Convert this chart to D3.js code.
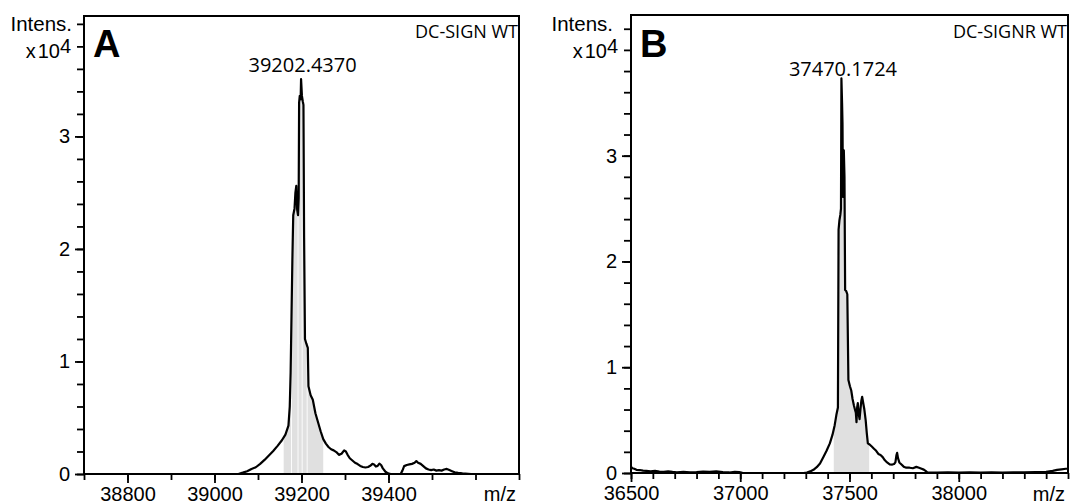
<!DOCTYPE html>
<html>
<head>
<meta charset="utf-8">
<script src="https://cdn.jsdelivr.net/npm/d3@7"></script>
<style>
body { margin: 0; background: #fff; }
svg { display: block; }
.tick text { font-family: "Liberation Sans", Arial, sans-serif; font-size: 20px; fill: #000; }
.tick line { stroke: #000; stroke-width: 1.8; }
</style>
</head>
<body>
<svg id="chart"></svg>
<script>
// spectrum A, DC-SIGN WT (intensity in units of 10^4)
let mzA = [38700, 39055, 39065, 39075, 39085, 39095, 39105, 39115, 39125, 39135,
  39145, 39155, 39163, 39170, 39173, 39175, 39177, 39179, 39181, 39184,
  39186, 39188, 39190, 39192, 39193.5, 39194.5, 39196, 39198, 39199, 39201,
  39203, 39204.5, 39206, 39208, 39211, 39214.5, 39216, 39221, 39226, 39232,
  39238, 39244, 39250, 39256, 39262, 39268, 39274, 39280, 39286, 39292,
  39298, 39302, 39306, 39311, 39317, 39323, 39329, 39335, 39341, 39347,
  39353, 39359, 39363, 39367, 39371, 39375, 39379, 39383, 39387, 39393,
  39399, 39405, 39428, 39432, 39436, 39442, 39448, 39454, 39460, 39464,
  39468, 39474, 39480, 39486, 39492, 39498, 39504, 39510, 39516, 39522,
  39528, 39534, 39540, 39546, 39552, 39560, 39570, 39590, 39700]
let intA = [0, 0, 0.012, 0.025, 0.045, 0.06, 0.09, 0.125, 0.165, 0.205,
  0.25, 0.3, 0.35, 0.43, 0.6, 0.9, 1.4, 1.9, 2.3, 2.36,
  2.5, 2.56, 2.35, 2.3, 2.45, 3.3, 3.36, 3.33, 3.51, 3.36,
  3.31, 3.28, 2.1, 1.2, 1.16, 1.12, 0.78, 0.7, 0.66, 0.54,
  0.46, 0.38, 0.31, 0.27, 0.24, 0.22, 0.21, 0.195, 0.17, 0.18,
  0.21, 0.2, 0.17, 0.14, 0.12, 0.1, 0.088, 0.072, 0.062, 0.058,
  0.062, 0.075, 0.09, 0.085, 0.066, 0.072, 0.092, 0.08, 0.05, 0.02,
  0.005, 0, 0, 0.03, 0.07, 0.08, 0.085, 0.09, 0.1, 0.115,
  0.1, 0.09, 0.07, 0.05, 0.04, 0.035, 0.04, 0.03, 0.035, 0.03,
  0.04, 0.045, 0.035, 0.025, 0.015, 0.01, 0.005, 0, 0]
let fillA = [[39159, 39176], [39178, 39191], [39193, 39200.5], [39202.5, 39212], [39214, 39250]]
let xTicksA = [38800, 39000, 39200, 39400]

// spectrum B, DC-SIGNR WT
let mzB = [36500, 36506, 36515, 36525, 36540, 36555, 36570, 36590, 36610, 36630,
  36650, 36670, 36690, 36710, 36740, 36770, 36800, 36830, 36860, 36890,
  36920, 36950, 36975, 36995, 37010, 37050, 37290, 37305, 37320, 37335,
  37350, 37365, 37380, 37395, 37410, 37422, 37432, 37440, 37447, 37450,
  37454, 37458, 37461, 37463, 37466, 37468, 37470, 37472, 37474, 37477,
  37480, 37485, 37490, 37495, 37502, 37508, 37514, 37520, 37525, 37529,
  37532, 37535, 37538, 37542, 37546, 37550, 37554, 37558, 37563, 37568,
  37574, 37579, 37584, 37592, 37602, 37612, 37622, 37632, 37642, 37652,
  37662, 37672, 37684, 37696, 37704, 37710, 37715, 37718, 37722, 37728,
  37738, 37748, 37760, 37775, 37790, 37806, 37818, 37830, 37840, 37848,
  37856, 37900, 37950, 38000, 38050, 38100, 38150, 38200, 38250, 38300,
  38350, 38400, 38430, 38450, 38470, 38490, 38500]
let intB = [0.06, 0.045, 0.04, 0.03, 0.028, 0.022, 0.02, 0.016, 0.02, 0.014,
  0.012, 0.016, 0.01, 0.007, 0.01, 0.005, 0.008, 0.013, 0.01, 0.015,
  0.008, 0.005, 0.011, 0.008, 0.002, 0, 0, 0.005, 0.015, 0.03,
  0.055, 0.09, 0.15, 0.21, 0.28, 0.36, 0.45, 0.55, 0.62, 2.3,
  2.39, 2.44, 2.5, 3.73, 3.5, 3.3, 2.61, 2.75, 3.05, 2.8,
  1.73, 1.72, 1.69, 0.88, 0.82, 0.78, 0.7, 0.64, 0.6, 0.57,
  0.48, 0.62, 0.66, 0.56, 0.51, 0.6, 0.68, 0.72, 0.66, 0.6,
  0.5, 0.38, 0.28, 0.27, 0.25, 0.23, 0.21, 0.18, 0.17, 0.15,
  0.12, 0.1, 0.082, 0.08, 0.085, 0.1, 0.17, 0.19, 0.14, 0.1,
  0.08, 0.06, 0.05, 0.05, 0.045, 0.058, 0.05, 0.04, 0.032, 0.02,
  0.006, 0.004, 0.006, 0.003, 0.006, 0.004, 0.006, 0.004, 0.006, 0.005,
  0.008, 0.01, 0.02, 0.03, 0.035, 0.04, 0.04]
let fillB = [[37428, 37590]]
let xTicksB = [36500, 37000, 37500, 38000]

let yTicks = [0, 1, 2, 3]

let width = 1072
let height = 504

let svg = d3.select('#chart').attr('width', width).attr('height', height)
let defs = svg.append('defs')

let drawPanel = (p) => {
    let g = svg.append('g').attr('id', p.id)
    let x = d3.scaleLinear().domain(p.xDomain).range([p.left, p.right])
    let y = d3.scaleLinear().domain([0, p.yTop]).range([p.bottom, p.top])
    let pts = p.mz.map((m, i) => [m, p.int[i]])

    // grey shading of the integrated peak region
    let clipId = p.id + '-fill'
    defs.append('clipPath').attr('id', clipId)
        .selectAll('rect').data(p.fills).join('rect')
        .attr('x', d => x(d[0]))
        .attr('width', d => x(d[1]) - x(d[0]))
        .attr('y', p.top)
        .attr('height', p.bottom - p.top)

    let area = d3.area().x(d => x(d[0])).y0(y(0)).y1(d => y(d[1]))
    g.append('path').datum(pts)
        .attr('d', area)
        .attr('fill', '#e0e0e0')
        .attr('clip-path', 'url(#' + clipId + ')')

    let line = d3.line().x(d => x(d[0])).y(d => y(d[1]))
    g.append('path').datum(pts)
        .attr('d', line)
        .attr('fill', 'none')
        .attr('stroke', '#000')
        .attr('stroke-width', 2.2)
        .attr('stroke-linejoin', 'round')

    // x axis: minor ticks every 100, labelled ones longer
    let xMinor = d3.range(p.xDomain[0], p.xDomain[1] + 1, 100)
    g.append('g').attr('transform', 'translate(0,' + p.bottom + ')')
        .call(d3.axisBottom(x).tickValues(xMinor).tickSize(6).tickFormat(''))
    g.append('g').attr('transform', 'translate(0,' + p.bottom + ')')
        .call(d3.axisBottom(x).tickValues(p.xTicks).tickSize(9).tickPadding(4).tickFormat(d3.format('d')))

    // y axis: minor ticks every 0.2
    let yMinor = d3.range(0, p.yTickTop * 5 + 1).map(i => i * 0.2)
    g.append('g').attr('transform', 'translate(' + p.left + ',0)')
        .call(d3.axisLeft(y).tickValues(yMinor).tickSize(7).tickFormat(''))
    g.append('g').attr('transform', 'translate(' + p.left + ',0)')
        .call(d3.axisLeft(y).tickValues(yTicks).tickSize(9).tickPadding(5).tickFormat(d3.format('d')))

    g.selectAll('.domain').remove()

    g.append('rect')
        .attr('x', p.left).attr('y', p.top)
        .attr('width', p.right - p.left).attr('height', p.bottom - p.top)
        .attr('fill', 'none').attr('stroke', '#000').attr('stroke-width', 2)

    let arial = '"Liberation Sans", Arial, sans-serif'
    let segoe = '"Open Sans", "Noto Sans", sans-serif'

    g.append('text').text('Intens.')
        .attr('x', p.left - p.intensGap).attr('y', 31)
        .attr('text-anchor', 'end').attr('font-family', arial).attr('font-size', 20.5)

    let pow = g.append('text')
        .attr('x', p.left - 13).attr('y', 58)
        .attr('text-anchor', 'end').attr('font-family', arial).attr('font-size', 20)
    pow.append('tspan').text('x')
    pow.append('tspan').attr('dx', 2).text('10')
    pow.append('tspan').attr('dy', -5).text('4')

    g.append('text').text(p.letter)
        .attr('x', p.left + 9).attr('y', 57)
        .attr('font-family', arial).attr('font-size', 38).attr('font-weight', 'bold')

    g.append('text').text(p.name)
        .attr('x', p.right - 1).attr('y', 38)
        .attr('text-anchor', 'end').attr('font-family', segoe).attr('font-size', 18)

    g.append('text').text(p.peakLabel)
        .attr('x', x(+p.peakLabel)).attr('y', p.peakLabelY)
        .attr('text-anchor', 'middle').attr('font-family', segoe).attr('font-size', 20)

    g.append('text').text('m/z')
        .attr('x', p.right - 3).attr('y', 501)
        .attr('text-anchor', 'end').attr('font-family', arial).attr('font-size', 20)
}

drawPanel({
    id: 'panelA', mz: mzA, int: intA, fills: fillA, xTicks: xTicksA,
    xDomain: [38700, 39700], yTop: 4.07, yTickTop: 4,
    left: 84, right: 519, top: 16, bottom: 474,
    intensGap: 12, letter: 'A', name: 'DC-SIGN WT',
    peakLabel: '39202.4370', peakLabelY: 72
})

drawPanel({
    id: 'panelB', mz: mzB, int: intB, fills: fillB, xTicks: xTicksB,
    xDomain: [36500, 38500], yTop: 4.33, yTickTop: 4.2,
    left: 631, right: 1068, top: 15, bottom: 473,
    intensGap: 18, letter: 'B', name: 'DC-SIGNR WT',
    peakLabel: '37470.1724', peakLabelY: 76
})
</script>
</body>
</html>
